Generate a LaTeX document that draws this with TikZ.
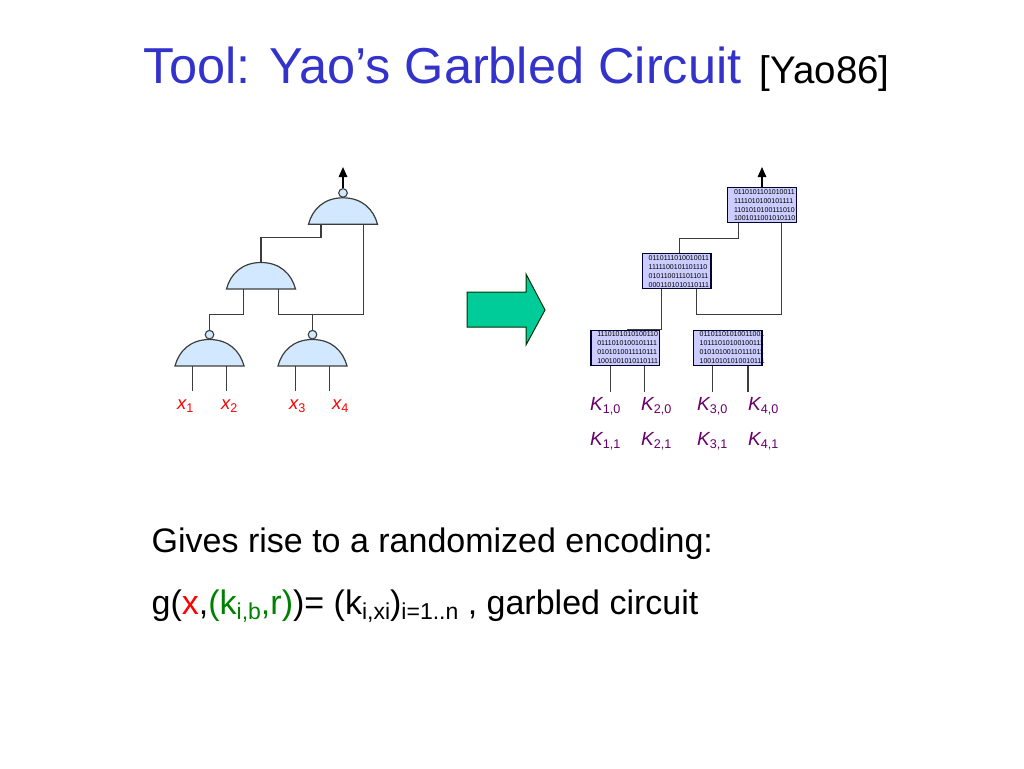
\documentclass[tikz,border=0pt]{standalone}
\usepackage{fontspec}
\setmainfont{Liberation Sans}
\usepackage{tikz}
\usetikzlibrary{arrows.meta,positioning,calc}
\usepackage{xcolor}
\definecolor{titleblue}{RGB}{51,51,204}
\definecolor{gateblue}{RGB}{209,232,255}
\definecolor{boxblue}{RGB}{204,204,255}
\definecolor{arrowgreen}{RGB}{0,204,153}
\definecolor{keypurple}{RGB}{102,0,102}
\definecolor{wiregray}{RGB}{60,60,60}
\definecolor{rndgreen}{RGB}{0,128,0}
\newcommand{\inlbl}[2]{{\itshape #1}\raisebox{-3.5pt}{\fontsize{12.6}{12.6}\selectfont #2}}
\newcommand{\txtsub}[1]{\raisebox{-5pt}{\fontsize{23}{23}\selectfont #1}}
\tikzset{
  gate/.style={minimum width=68.6pt,minimum height=26pt,inner sep=0pt},
  gateline/.style={draw=wiregray,fill=gateblue,line width=1.2pt},
  bubble/.style={circle,draw=wiregray,fill=gateblue,line width=1.1pt,
                 minimum size=8.6pt,inner sep=0pt},
  bits/.style={draw=black!80!blue,fill=boxblue,line width=1.2pt,inner xsep=6.3pt,
               inner ysep=0pt,text width=56pt,minimum height=35pt,align=left,
               font=\fontsize{7}{8.9}\selectfont},
  wire/.style={draw=wiregray,line width=1.2pt},
  outarrow/.style={-{Triangle[length=10pt,width=8.5pt]},black,line width=1.6pt},
  inlabel/.style={anchor=base west,inner sep=0pt,text=red,font=\fontsize{18.5}{18.5}\selectfont},
  keylabel/.style={anchor=base west,inner sep=0pt,text=keypurple,font=\fontsize{19}{19}\selectfont},
  slide/.style={anchor=base west,inner sep=0pt,font=\fontsize{34}{34}\selectfont},
}
\begin{document}
\begin{tikzpicture}[x=1pt,y=-1pt]
  \useasboundingbox (0,0) rectangle (1024,768);
  \node[anchor=base west,inner sep=0pt] (title) at (143.5,83)
    {\fontsize{50.5}{50.5}\selectfont\color{titleblue}Tool: Yao’s Garbled Circuit};
  \node[anchor=base west,inner sep=0pt,font=\fontsize{38.5}{38.5}\selectfont] (cite) at (759.5,83) {[Yao86]};

  % plain circuit
  \foreach \n/\x/\y in {gtop/343/211,gmid/261/275.7,gl/209.5/352.7,gr/312.5/352.7}{
    \node[gate] (\n) at (\x,\y) {};
    \draw[gateline] (\n.south west) .. controls +(4,-15) and +(-19,0) .. (\n.north)
      .. controls +(19,0) and +(-4,-15) .. (\n.south east) -- cycle;
    \coordinate (\n-a) at ($(\n.south west)!.25!(\n.south east)$);
    \coordinate (\n-b) at ($(\n.south west)!.75!(\n.south east)$);
  }
  \node[bubble,above=0pt of gtop.north] (btop) {};
  \node[bubble,above=0pt of gl.north] (bl) {};
  \node[bubble,above=0pt of gr.north] (br) {};
  \coordinate (tipl) at (btop.north |- 0,167);
  \draw[outarrow] (btop) -- (tipl);
  \coordinate (topa) at ($(gtop.south west)!.18!(gtop.south east)$);
  \coordinate (topb) at ($(gtop.south west)!.8!(gtop.south east)$);
  \draw[wire] (topa) -- ++(0,13.3) -| (gmid.north);
  \coordinate (joinl) at (gmid-b |- 0,314.7);
  \draw[wire] (topb) |- (joinl) -- (gmid-b);
  \draw[wire] (gmid-a) |- (bl.north |- joinl) -- (bl);
  \draw[wire] (br.north |- joinl) -- (br);
  % inputs
  \foreach \g/\p/\lab/\lx in {gl/a/1/177,gl/b/2/221,gr/a/3/289,gr/b/4/332}{
    \coordinate (end\lab) at ($(\g-\p)+(0,25.3)$);
    \draw[wire] (\g-\p) -- (end\lab);
    \node[inlabel] (x\lab) at (\lx,409) {\inlbl{x}{\lab}};
  }

  \draw[draw=black!80!green,fill=arrowgreen,line width=1pt] (467,292) -- (526,292) -- (526,274)
    -- (545,310) -- (526,345) -- (526,327) -- (467,327) -- cycle;

  % garbled circuit
  \node[bits] (btop2) at (762,205.2) {0110101101010011\\1111010100101111\\1101010100111010\\1001011001010110};
  \node[bits] (bmid2) at (676.7,271.3) {0110111010010011\\1111100101101110\\0101100111011011\\0001101010110111};
  \node[bits] (bl2) at (625.3,347.8) {1110101010100110\\0111010100101111\\0101010011110111\\1001001010110111};
  \node[bits] (br2) at (727.7,347.8) {01101101010011001\\10111010100100111\\01010100110111011\\10010101010010111};
  \coordinate (tipr) at (btop2.north |- 0,167);
  \draw[outarrow] (btop2.north) -- (tipr);
  \draw[wire] ($(btop2.south west)!.16!(btop2.south east)$) -- ++(0,15) -| ($(bmid2.north west)!.536!(bmid2.north east)$);
  \coordinate (topc) at ($(btop2.south west)!.78!(btop2.south east)$);
  \coordinate (joinr) at ($(bmid2.south west)!.78!(bmid2.south east)$);
  \draw[wire] (topc) |- (joinr |- 0,314.7) -- (joinr);
  \coordinate (mida) at ($(bmid2.south west)!.287!(bmid2.south east)$);
  \draw[wire] (mida) |- ($(bl2.north west)!.53!(bl2.north east)$ |- 0,314.7) -- ($(bl2.north west)!.53!(bl2.north east)$);
  \draw[wire] ($(br2.north west)!.53!(br2.north east)$ |- 0,314.7) -- ($(br2.north west)!.53!(br2.north east)$);
  \foreach \g/\f/\lab/\lx in {bl2/.287/1/590,bl2/.78/2/641,br2/.287/3/697,br2/.79/4/748}{
    \coordinate (kend\lab) at ($($(\g.south west)!\f!(\g.south east)$)+(0,26)$);
    \draw[wire] ($(\g.south west)!\f!(\g.south east)$) -- (kend\lab);
    \node[keylabel] (k\lab0) at (\lx,410) {\inlbl{K}{\lab,0}};
    \node[keylabel] (k\lab1) at (\lx,445) {\inlbl{K}{\lab,1}};
  }

  \node[slide] (line1) at (151.5,552) {Gives rise to a randomized encoding:};
  \node[slide] (line2) at (151.5,614) {g({\color{red}x},{\color{rndgreen}(k\txtsub{i,b},r)})= (k\txtsub{i,xi})\txtsub{i=1..n} , garbled circuit};
\end{tikzpicture}
\end{document}
